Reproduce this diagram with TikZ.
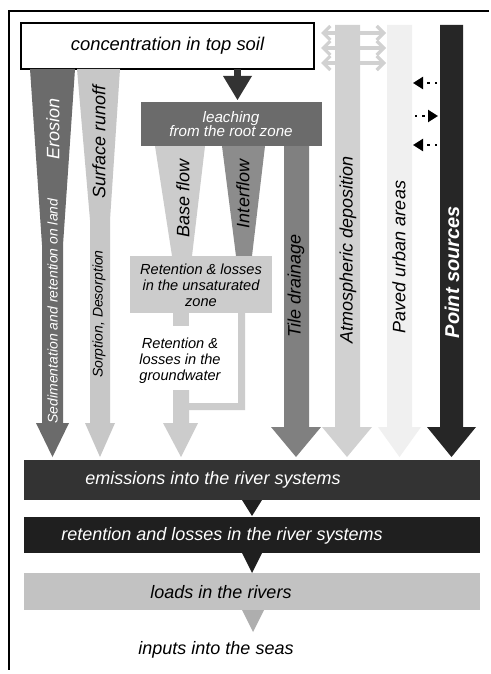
\documentclass[tikz,border=0pt]{standalone}
\usepackage{fontspec}
\setmainfont{Liberation Sans}
\usepackage{xcolor}
\usetikzlibrary{positioning, arrows.meta, calc}

\definecolor{erosiongray}{gray}{0.42}
\definecolor{runoffgray}{gray}{0.78}
\definecolor{leachgray}{gray}{0.42}
\definecolor{basegray}{gray}{0.80}
\definecolor{intergray}{gray}{0.55}
\definecolor{tilegray}{gray}{0.50}
\definecolor{atmogray}{gray}{0.82}
\definecolor{pavedgray}{gray}{0.94}
\definecolor{pointgray}{gray}{0.15}
\definecolor{emisgray}{gray}{0.20}
\definecolor{rivergray}{gray}{0.12}
\definecolor{loadgray}{gray}{0.76}

\def\pxlen{0.5pt}

\begin{document}
\begin{tikzpicture}[
    x=0.5pt, y=-0.5pt,
    every node/.style={font=\itshape\fontsize{9}{10.5}\selectfont, inner sep=0pt, outer sep=0pt},
    flowlabel/.style={rotate=90},
    smalltext/.style={font=\itshape\fontsize{7}{8}\selectfont},
    zonetext/.style={font=\itshape\fontsize{7.3}{8.1}\selectfont, align=center},
    panel/.style={draw=none, minimum width=#1*\pxlen},
    panel/.default=456
]
    % Page size and frame
    \useasboundingbox (0,0) rectangle (491,674);
    \fill[white] (0,0) rectangle (491,674);
    \draw[line width=0.7pt] (489,11) -- (9,11) -- (9,670);

    % Top soil box
    \node[draw=black, line width=0.8pt, fill=white, minimum width=293*\pxlen, minimum height=46*\pxlen]
        (soil) at (167.5,46) {\fontsize{9.2}{10}\selectfont concentration in top soil};

    % Erosion and surface runoff
    \fill[erosiongray] (30,69) -- (75,69) -- (63,245) -- (63,423) -- (69,423) -- (52.5,457)
        -- (36,423) -- (42,423) -- (42,245) -- cycle;
    \fill[runoffgray] (77,69) -- (120,69) -- (110,220) -- (110,423) -- (115,423) -- (100,457)
        -- (85,423) -- (90,423) -- (90,220) -- cycle;
    \node[flowlabel, white] (erosion) at (53,129) {Erosion};
    \node[flowlabel, smalltext, white] (sediment) at (52.5,311) {Sedimentation and retention on land};
    \node[flowlabel] (runoff) at (99,142) {Surface runoff};
    \node[flowlabel, smalltext] (sorption) at (99,314) {Sorption, Desorption};

    % Leaching from the root zone
    \fill[black!80] (234,69) rectangle (241,76);
    \fill[black!80] (223,76) -- (252,76) -- (237.5,100) -- cycle;
    \node[panel, fill=leachgray, minimum width=181*\pxlen, minimum height=44*\pxlen] (leach) at (231.5,124) {};
    \node[white, font=\itshape\fontsize{7.6}{7.2}\selectfont, align=center] (leachtxt) at (231,124)
        {leaching\\from the root zone};

    % Base flow, interflow and the unsaturated zone
    \fill[basegray] (155,146) -- (205,146) -- (192,256) -- (172,256) -- cycle;
    \fill[intergray] (222,146) -- (265,146) -- (252,256) -- (236,256) -- cycle;
    \node[flowlabel] (baseflow) at (183,198) {Base flow};
    \node[flowlabel] (interflow) at (243,194) {Interflow};
    \node[panel, fill=basegray, minimum width=142*\pxlen, minimum height=57*\pxlen] (unsat) at (201,284.5) {};
    \node[zonetext] (unsattxt) at (201,285) {Retention \& losses\\in the unsaturated\\zone};

    % Groundwater
    \fill[basegray] (173,313) rectangle (189,326);
    \fill[basegray] (238,313) -- (245,313) -- (245,410) -- (189,410) -- (189,403) -- (238,403) -- cycle;
    \fill[basegray] (173,390) -- (189,390) -- (189,423) -- (198,423) -- (181,457) -- (163,423)
        -- (173,423) -- cycle;
    \node[zonetext] (ground) at (180,361) {Retention \&\\losses in the\\groundwater};

    % Tile drainage
    \fill[tilegray] (284,146) -- (309,146) -- (309,427) -- (321,427) -- (296,457) -- (271,427)
        -- (284,427) -- cycle;
    \node[flowlabel] (tile) at (296,286) {Tile drainage};

    % Atmospheric deposition
    \fill[atmogray] (335,25) -- (360,25) -- (360,427) -- (372,427) -- (347,457) -- (322,427)
        -- (335,427) -- cycle;
    \foreach \i/\yy in {1/33, 2/48, 3/63} {
        \coordinate (dl\i) at (321,\yy);
        \coordinate (dr\i) at (386,\yy);
        \draw[atmogray, line width=1.6pt, {Straight Barb[length=3.5pt, width=7pt]}-{Straight Barb[length=3.5pt, width=7pt]}]
            (dl\i) -- (dr\i);
    }
    \node[flowlabel] (atmo) at (348,250) {Atmospheric deposition};

    % Paved urban areas
    \fill[pavedgray] (387,25) -- (412,25) -- (412,427) -- (421,427) -- (399.5,457) -- (378,427)
        -- (387,427) -- cycle;
    \node[flowlabel] (paved) at (399,257) {Paved urban areas};

    % Point sources
    \fill[pointgray] (440,25) -- (463,25) -- (463,427) -- (476,427) -- (451.5,457) -- (427,427)
        -- (440,427) -- cycle;
    \node[flowlabel, white, font=\bfseries\itshape\fontsize{10}{12}\selectfont] (point) at (452,272) {Point sources};
    \coordinate (ps1) at (437,83);  \coordinate (pt1) at (413,83);
    \coordinate (ps2) at (415,116); \coordinate (pt2) at (438,116);
    \coordinate (ps3) at (437,145); \coordinate (pt3) at (413,145);
    \foreach \i in {1,2,3}
        \draw[line width=1.1pt, dash pattern=on 1.2pt off 2.5pt, -{Triangle[length=5pt, width=6pt]}] (ps\i) -- (pt\i);

    % River systems
    \node[panel, fill=emisgray, minimum height=40*\pxlen] (emis) at (252,480) {};
    \node[white] (emistxt) at (213,480) {emissions into the river systems};
    \fill[rivergray] ($(emis.south)+(-10,0)$) -- ($(emis.south)+(10,0)$) -- ($(emis.south)+(0,16)$) -- cycle;
    \node[panel, fill=rivergray, minimum height=36*\pxlen] (river) at (252,535) {};
    \node[white] (rivertxt) at (222,536) {retention and losses in the river systems};
    \fill[rivergray] ($(river.south)+(-10,0)$) -- ($(river.south)+(10,0)$) -- ($(river.south)+(0,20)$) -- cycle;
    \node[panel, fill=loadgray, minimum height=37*\pxlen] (loads) at (252,591.5) {};
    \node (loadstxt) at (221,592) {loads in the rivers};
    \fill[loadgray!90!black] ($(loads.south)+(-10,0)$) -- ($(loads.south)+(12,0)$) -- ($(loads.south)+(1,22)$) -- cycle;
    \node (seas) at (216,650) {inputs into the seas};
\end{tikzpicture}
\end{document}
